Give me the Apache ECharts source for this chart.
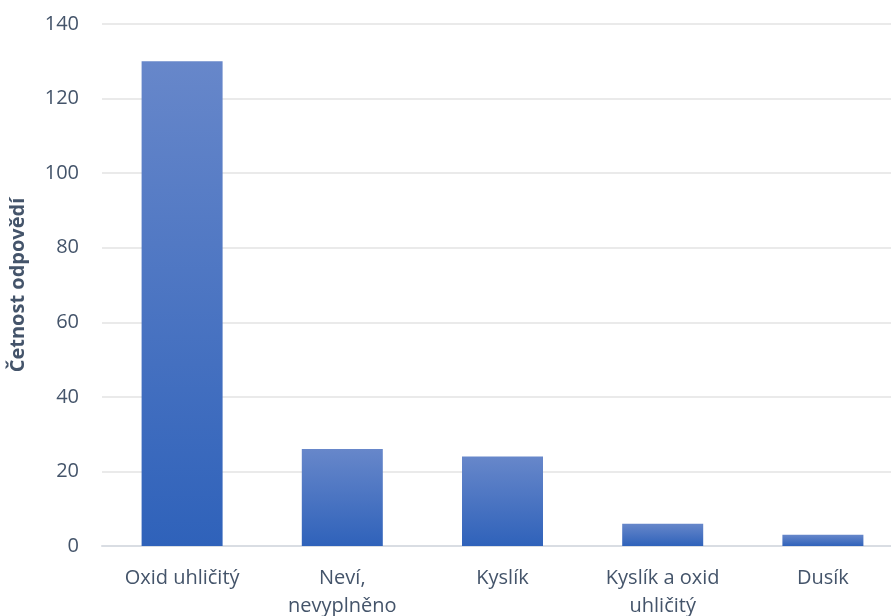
<!DOCTYPE html>
<html><head><meta charset="utf-8">
<script src="https://cdn.jsdelivr.net/npm/echarts@6/dist/echarts.min.js"></script>
<style>html,body{margin:0;padding:0;background:#fff;overflow:hidden}#c{width:891px;height:616px}</style>
</head><body><div id="c"></div>
<script>
const categories = ["Oxid uhličitý", "Neví,\nnevyplněno", "Kyslík", "Kyslík a oxid\nuhličitý", "Dusík"];
const values = [130, 26, 24, 6, 3];
const yTicks = { min: 0, max: 140, interval: 20 };
const yName = "Četnost odpovědí";

const chart = echarts.init(document.getElementById('c'), null, {renderer: 'canvas'});
chart.setOption({
  animation: false,
  grid: { left: 102, top: 24, width: 801, height: 522, containLabel: false, outerBoundsMode: 'none' },
  xAxis: {
    type: 'category', data: categories,
    axisLine: { lineStyle: { color: '#d9dde3', width: 2 } },
    axisTick: { show: false },
    axisLabel: { color: '#44546a', fontFamily: 'Open Sans', fontSize: 20, margin: 18, lineHeight: 28, interval: 0 }
  },
  yAxis: {
    type: 'value', min: yTicks.min, max: yTicks.max, interval: yTicks.interval,
    name: yName, nameLocation: 'middle', nameGap: 74, nameRotate: 90,
    nameTextStyle: { color: '#44546a', fontFamily: 'Open Sans', fontSize: 20, fontWeight: 'bold' },
    axisLine: { show: false }, axisTick: { show: false },
    axisLabel: { color: '#44546a', fontFamily: 'Open Sans', fontSize: 20, margin: 23 },
    splitLine: { lineStyle: { color: '#e3e3e3', width: 1.5 } }
  },
  series: [{
    type: 'bar', data: values, barWidth: 81,
    itemStyle: {
      color: new echarts.graphic.LinearGradient(0, 0, 0, 1, [
        { offset: 0, color: '#6787ca' },
        { offset: 1, color: '#2f62ba' }
      ])
    }
  }]
});
</script></body></html>
